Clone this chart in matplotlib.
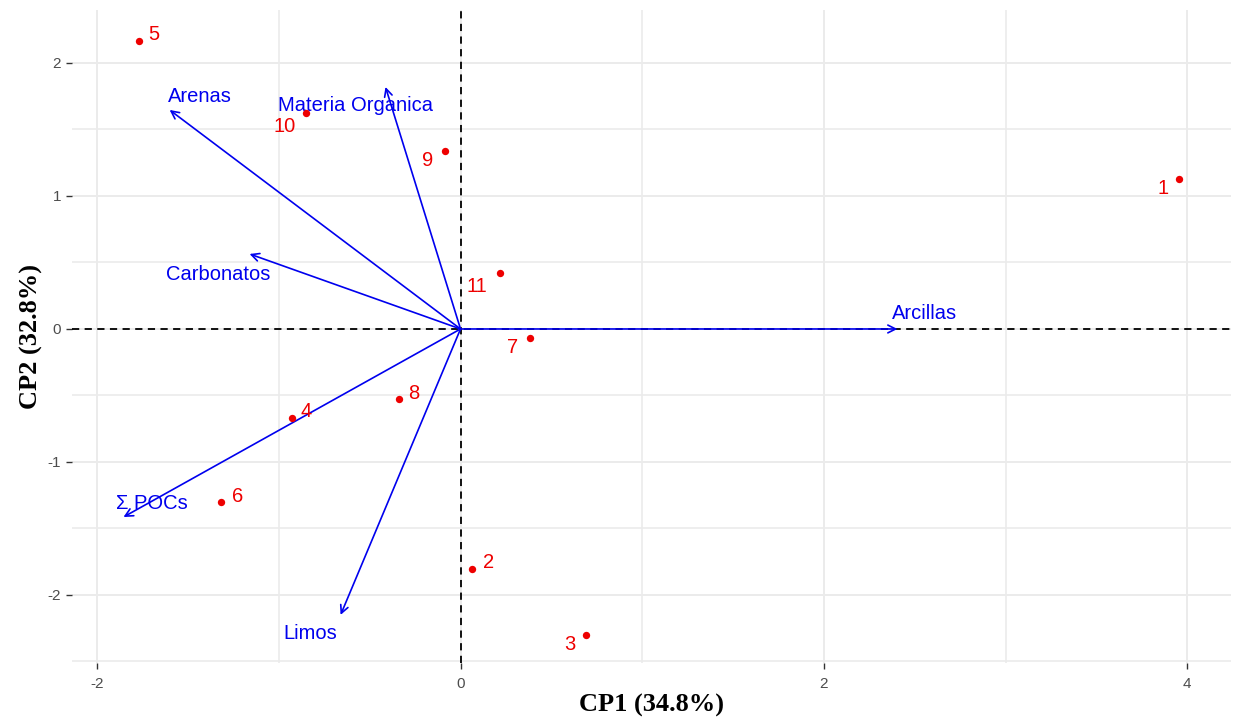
import matplotlib.pyplot as plt
import numpy as np

plt.rcParams['axes.unicode_minus'] = False

# Individuals (site scores)
sites = ['1', '2', '3', '4', '5', '6', '7', '8', '9', '10', '11']
site_x = [3.957, 0.061, 0.693, -0.925, -1.772, -1.321, 0.380, -0.341, -0.088, -0.848, 0.215]
site_y = [1.128, -1.805, -2.301, -0.669, 2.165, -1.301, -0.068, -0.526, 1.338, 1.624, 0.421]
# label offsets (points) relative to each point
site_dx = [-12, 12, -12, 10, 11, 12, -12, 11, -12, -16, -16]
site_dy = [-7, 5, -7, 5, 5, 4, -7, 4, -7, -10, -10]

# Variables (loadings)
variables = ['Arenas', 'Materia Organica', 'Carbonatos', 'Arcillas', 'Σ POCs', 'Limos']
var_x = [-1.601, -0.413, -1.161, 2.405, -1.855, -0.660]
var_y = [1.647, 1.820, 0.564, 0.0, -1.414, -2.150]
var_lx = [-1.435, -0.580, -1.335, 2.555, -1.700, -0.825]
var_ly = [1.750, 1.680, 0.412, 0.115, -1.310, -2.290]

fig = plt.figure(figsize=(12.33, 7.19), dpi=100)
ax = fig.add_axes([0.058, 0.078, 0.940, 0.908])

ax.set_xlim(-2.141, 4.238)
ax.set_ylim(-2.511, 2.398)

ax.set_xticks([-2, 0, 2, 4])
ax.set_xticks([-1, 1, 3], minor=True)
ax.set_yticks([-2, -1, 0, 1, 2])
ax.set_yticks([-2.5, -1.5, -0.5, 0.5, 1.5], minor=True)
ax.grid(which='major', color='#ebebeb', linewidth=1.4)
ax.grid(which='minor', color='#ebebeb', linewidth=1.2)
ax.set_axisbelow(True)
for s in ax.spines.values():
    s.set_visible(False)
ax.tick_params(which='major', length=4, color='#333333', labelcolor='#4d4d4d',
               labelsize=11, width=1)
ax.tick_params(axis='x', which='major', pad=6)
ax.tick_params(which='minor', length=0)
for lab in ax.get_xticklabels() + ax.get_yticklabels():
    lab.set_family('Liberation Sans')

ax.axhline(0, color='black', linestyle=(0, (4, 3)), linewidth=1.3, zorder=1)
ax.axvline(0, color='black', linestyle=(0, (4, 3)), linewidth=1.3, zorder=1)

for name, x, y, lx, ly in zip(variables, var_x, var_y, var_lx, var_ly):
    ax.annotate('', xy=(x, y), xytext=(0, 0),
                arrowprops=dict(arrowstyle='->', color='#0000ee', lw=1.2,
                                shrinkA=0, shrinkB=0, mutation_scale=14))
    ax.text(lx, ly, name, color='#0000ee', fontsize=14.5, ha='center', va='center',
            family='Liberation Sans')

ax.scatter(site_x, site_y, s=28, color='#ee0000', zorder=3, linewidths=0)
for name, x, y, dx, dy in zip(sites, site_x, site_y, site_dx, site_dy):
    ax.annotate(name, (x, y), xytext=(dx, dy), textcoords='offset points',
                color='#ee0000', fontsize=14.5, ha='center', va='center',
                family='Liberation Sans')

ax.set_xlabel('CP1 (34.8%)', fontsize=19, fontweight='bold', family='Liberation Serif', labelpad=2)
ax.set_ylabel('CP2 (32.8%)', fontsize=19, fontweight='bold', family='Liberation Serif', labelpad=3)

fig.savefig('out.png', dpi=100)
